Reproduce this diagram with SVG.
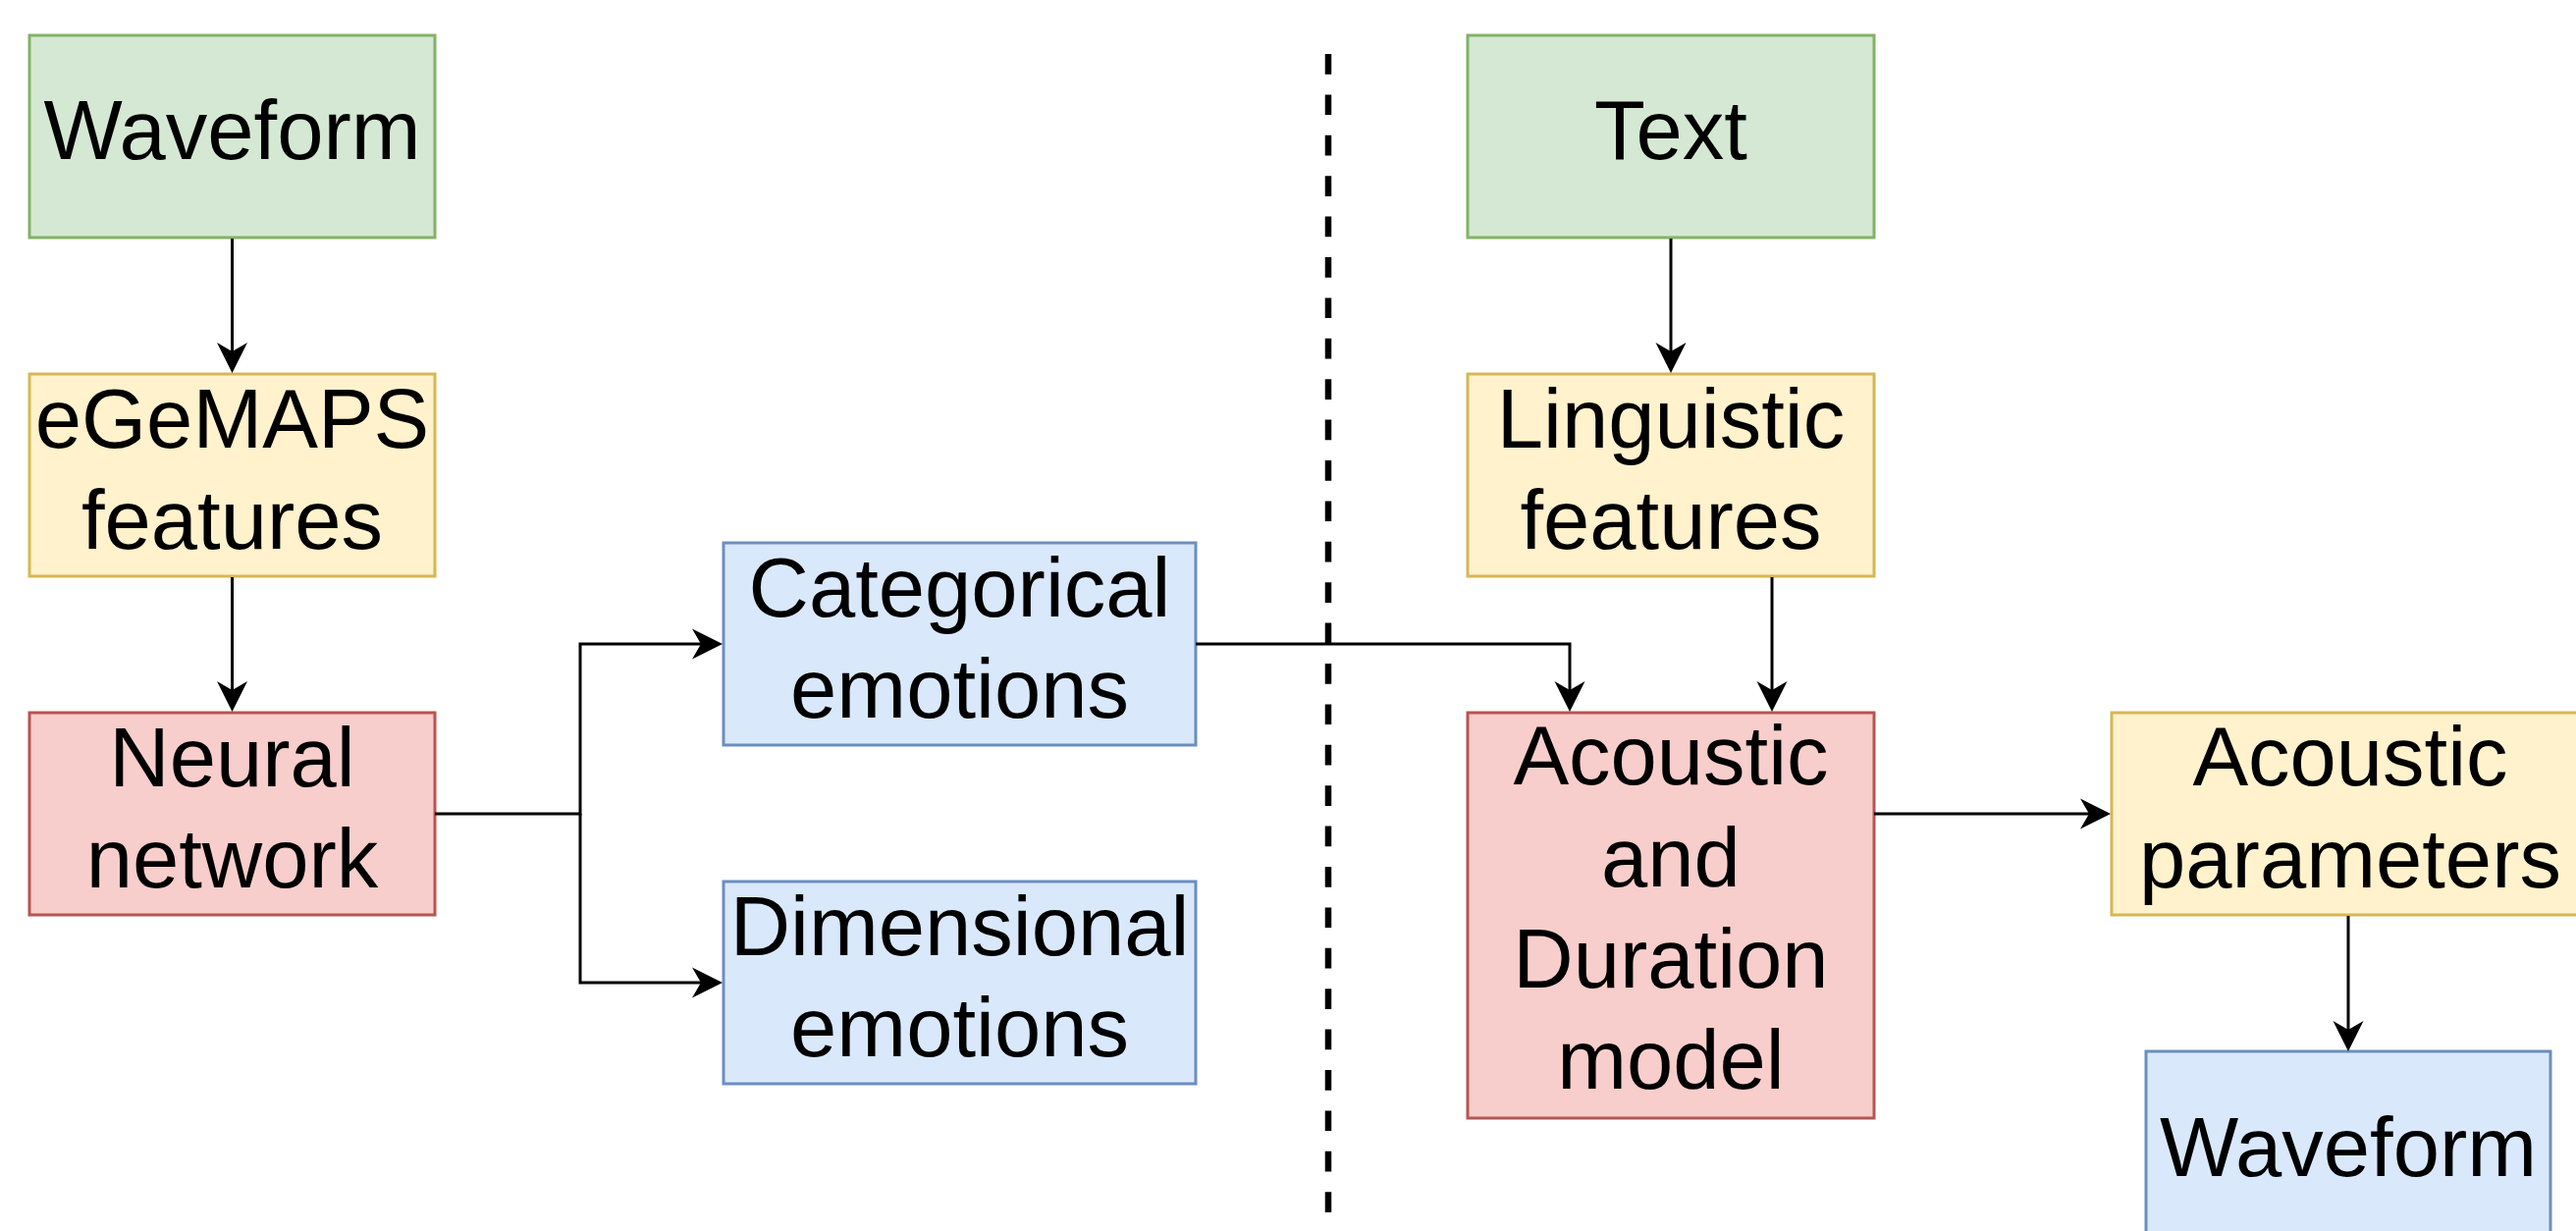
<svg xmlns="http://www.w3.org/2000/svg" width="2624" height="1254" viewBox="0 0 2624 1254">
<style>
.box{stroke-width:3}
.g{fill:#d5e8d4;stroke:#82b366}
.y{fill:#fff2cc;stroke:#d6b656}
.r{fill:#f8cecc;stroke:#b85450}
.b{fill:#dae8fc;stroke:#6c8ebf}
text{font-family:"Liberation Sans",Arial,Helvetica,sans-serif;font-size:85px;fill:#000;text-anchor:middle}
.c{fill:none;stroke:#000;stroke-width:3}
</style>
<defs>
<marker id="arr" markerUnits="userSpaceOnUse" markerWidth="32" markerHeight="32" refX="9" refY="15.5" orient="auto" overflow="visible">
<path d="M31,15.5 L0,0 L9,15.5 L0,31 Z" fill="#000"/>
</marker>
</defs>
<rect width="2624" height="1254" fill="#fff"/>
<line x1="1353" y1="55" x2="1353" y2="1235" stroke="#000" stroke-width="6.5" stroke-dasharray="20.7 20.7"/>
<g id="waveform-in"><rect class="box g" x="30" y="36" width="413" height="206"/><text x="236.5" y="162">Waveform</text></g>
<g id="egemaps"><rect class="box y" x="30" y="381" width="413" height="206"/><text x="236.5" y="455.5">eGeMAPS</text><text x="236.5" y="558.5">features</text></g>
<g id="neural"><rect class="box r" x="30" y="726" width="413" height="206"/><text x="236.5" y="800.5">Neural</text><text x="236.5" y="903.5">network</text></g>
<g id="categorical"><rect class="box b" x="737" y="553" width="481" height="206"/><text x="977.5" y="627.5">Categorical</text><text x="977.5" y="730.5">emotions</text></g>
<g id="dimensional"><rect class="box b" x="737" y="898" width="481" height="206"/><text x="977.5" y="972.5">Dimensional</text><text x="977.5" y="1075.5">emotions</text></g>
<g id="text-in"><rect class="box g" x="1495" y="36" width="414" height="206"/><text x="1702" y="162">Text</text></g>
<g id="linguistic"><rect class="box y" x="1495" y="381" width="414" height="206"/><text x="1702" y="455.5">Linguistic</text><text x="1702" y="558.5">features</text></g>
<g id="acoustic-model"><rect class="box r" x="1495" y="726" width="414" height="413"/><text x="1702" y="799">Acoustic</text><text x="1702" y="902.5">and</text><text x="1702" y="1006">Duration</text><text x="1702" y="1109">model</text></g>
<g id="acoustic-params"><rect class="box y" x="2151" y="726" width="483" height="206"/><text x="2394" y="800">Acoustic</text><text x="2394" y="903.5">parameters</text></g>
<g id="waveform-out"><rect class="box b" x="2186" y="1071" width="412" height="206"/><text x="2392" y="1197.5">Waveform</text></g>
<g id="connectors">
<path class="c" marker-end="url(#arr)" d="M236.5,243 V358"/>
<path class="c" marker-end="url(#arr)" d="M236.5,588 V703"/>
<path class="c" marker-end="url(#arr)" d="M443,829 H591 V656 H714"/>
<path class="c" marker-end="url(#arr)" d="M591,829 V1001 H714"/>
<path class="c" marker-end="url(#arr)" d="M1218,656 H1599 V703"/>
<path class="c" marker-end="url(#arr)" d="M1702,243 V358"/>
<path class="c" marker-end="url(#arr)" d="M1805,588 V703"/>
<path class="c" marker-end="url(#arr)" d="M1909,829 H2128"/>
<path class="c" marker-end="url(#arr)" d="M2392,933 V1049"/>
</g>
</svg>
